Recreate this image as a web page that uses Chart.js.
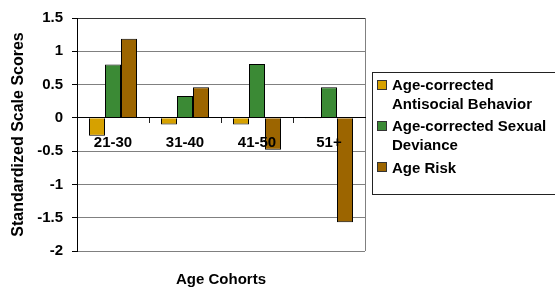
<!DOCTYPE html>
<html>
<head>
<meta charset="utf-8">
<script src="https://cdn.jsdelivr.net/npm/chart.js@4.4.1/dist/chart.umd.min.js"></script>
<style>
  html, body { margin: 0; padding: 0; background: #fff; }
  #wrap { position: relative; width: 555px; height: 293px; overflow: hidden; }
  canvas { position: absolute; left: 0; top: 0; }
  #legend { position: absolute; left: 372px; top: 72px; width: 200px; height: 123px;
            border: 1px solid #222; box-sizing: border-box; }
  .item { position: absolute; left: 392px; font: bold 15px "Liberation Sans", Arial, sans-serif;
          line-height: 19px; color: #000; white-space: nowrap; }
  .sw { position: absolute; left: 377px; width: 10px; height: 10px; box-sizing: border-box;
        border: 1px solid #333; }
</style>
</head>
<body>
<div id="wrap">
  <canvas id="c" width="555" height="293"></canvas>
  <div id="legend"></div>
</div>
<script>
// ---- data ----
const categories = ['21-30', '31-40', '41-50', '51+'];
const antisocialBehavior = [-0.27, -0.10, -0.10, -0.01];
const sexualDeviance = [0.80, 0.33, 0.81, 0.46];
const ageRisk = [1.19, 0.46, -0.48, -1.57];
const seriesNames = [['Age-corrected', 'Antisocial Behavior'], ['Age-corrected Sexual', 'Deviance'], ['Age Risk']];
const yTickValues = [-2, -1.5, -1, -0.5, 0, 0.5, 1, 1.5];
const yTitle = 'Standardized Scale Scores';
const xTitle = 'Age Cohorts';

const colors = ['#D6A100', '#3B8A35', '#9C6500'];
const FONT = '"Liberation Sans", Arial, sans-serif';

const series = [antisocialBehavior, sexualDeviance, ageRisk];
const datasets = series.map((d, i) => ({
  label: seriesNames[i].join(' '),
  data: d,
  backgroundColor: colors[i],
  borderColor: '#000',
  borderWidth: 1,
  categoryPercentage: 0.667,
  barPercentage: 1.0
}));

new Chart(document.getElementById('c'), {
  type: 'bar',
  data: { labels: categories, datasets },
  options: {
    responsive: false,
    devicePixelRatio: 1,
    animation: false,
    layout: { padding: { top: 16, right: 190, bottom: 0, left: 0 } },
    plugins: {
      legend: { display: false },
      tooltip: { enabled: false },
      title: {
        display: true, text: xTitle, position: 'bottom', fullSize: false,
        color: '#000', font: { family: FONT, size: 15, weight: 'bold' },
        padding: { top: 20, bottom: 4 }
      }
    },
    scales: {
      x: {
        position: { y: 0 },
        afterFit: (s) => { s.height = 0; },
        border: { display: true, color: '#000', width: 1, z: 1 },
        grid: {
          z: 1,
          offset: true,
          drawOnChartArea: true,
          drawTicks: true,
          tickLength: 5,
          lineWidth: 1,
          color: (ctx) => (ctx.type !== 'tick') ? '#808080' : 'rgba(0,0,0,0)',
          tickColor: (ctx) => (ctx.type === 'tick' && ctx.index > 0) ? '#222' : 'rgba(0,0,0,0)'
        },
        ticks: {
          z: 1,
          color: '#000', maxRotation: 0, autoSkip: false, padding: 11,
          font: { family: FONT, size: 15, weight: 'bold' }
        }
      },
      y: {
        min: -2, max: 1.5,
        afterFit: (s) => { s.width = 77; },
        afterBuildTicks: (s) => { s.ticks = yTickValues.map(v => ({ value: v })); },
        border: { display: true, color: '#000', width: 1 },
        grid: {
          color: (ctx) => {
            const v = ctx.tick ? ctx.tick.value : null;
            if (v === 0) return '#000';
            if (v === 1.5) return '#333';
            return '#808080';
          },
          tickColor: '#000',
          tickLength: 5
        },
        ticks: {
          color: '#000', padding: 9,
          font: { family: FONT, size: 15, weight: 'bold' },
          callback: (v) => String(v)
        },
        title: {
          display: true, text: yTitle, color: '#000',
          font: { family: FONT, size: 16, weight: 'bold' },
          padding: { top: 9, bottom: 0 }
        }
      }
    }
  }
});

// HTML legend (text built from seriesNames)
const wrap = document.getElementById('wrap');
const itemTops = [75, 115.5, 158];
const swTops = [80, 121, 162];
seriesNames.forEach((lines, i) => {
  const sw = document.createElement('div');
  sw.className = 'sw';
  sw.style.top = swTops[i] + 'px';
  sw.style.background = colors[i];
  wrap.appendChild(sw);
  const it = document.createElement('div');
  it.className = 'item';
  it.style.top = itemTops[i] + 'px';
  lines.forEach((t, j) => {
    if (j) it.appendChild(document.createElement('br'));
    it.appendChild(document.createTextNode(t));
  });
  wrap.appendChild(it);
});
</script>
</body>
</html>
